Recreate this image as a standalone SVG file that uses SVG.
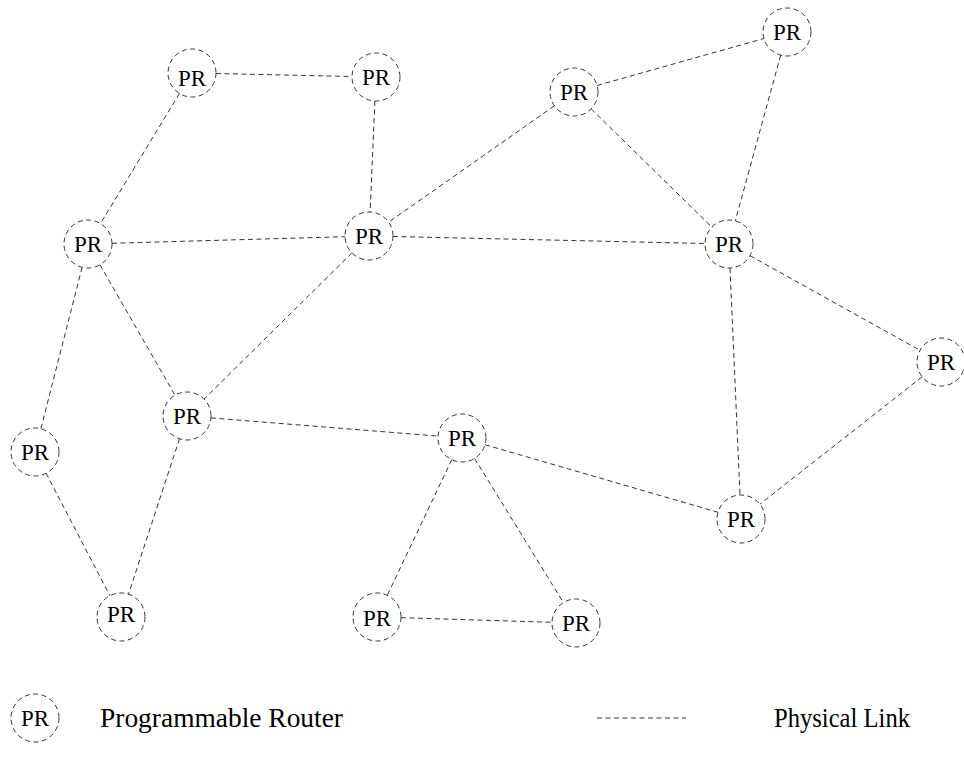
<svg xmlns="http://www.w3.org/2000/svg" width="964" height="766" viewBox="0 0 964 766">
<style>
.n{fill:none;stroke:#333;stroke-width:1;stroke-dasharray:5 3.5}
.l{stroke:#333;stroke-width:1;stroke-dasharray:5 3.5;fill:none}
.t{font-size:23px;fill:#000;text-anchor:middle}
.lg{font-size:27px;fill:#000}
</style>
<rect width="964" height="766" fill="#fff"/>
<g id="links">
<line class="l" x1="216" y1="73.5" x2="352" y2="76.5"/>
<line class="l" x1="179.5" y1="93.5" x2="100.5" y2="223.5"/>
<line class="l" x1="374.9" y1="101" x2="370.1" y2="212"/>
<line class="l" x1="597.1" y1="85.5" x2="763.9" y2="38.5"/>
<line class="l" x1="554.4" y1="105.8" x2="388.6" y2="222.2"/>
<line class="l" x1="591.1" y1="108.8" x2="711.9" y2="227.2"/>
<line class="l" x1="780.7" y1="55.1" x2="735.3" y2="220.9"/>
<line class="l" x1="112" y1="243.3" x2="345" y2="236.7"/>
<line class="l" x1="393" y1="236.5" x2="705" y2="243.5"/>
<line class="l" x1="100" y1="264.8" x2="175" y2="395.2"/>
<line class="l" x1="82.1" y1="267.3" x2="40.9" y2="428.7"/>
<line class="l" x1="351.9" y1="252.9" x2="204.1" y2="399.1"/>
<line class="l" x1="750" y1="255.7" x2="920" y2="350.3"/>
<line class="l" x1="730" y1="268" x2="740" y2="495"/>
<line class="l" x1="922.1" y1="376.8" x2="759.9" y2="504.2"/>
<line class="l" x1="210.9" y1="417.9" x2="438.1" y2="436.1"/>
<line class="l" x1="179.5" y1="438.8" x2="128.5" y2="594.2"/>
<line class="l" x1="46.1" y1="473.3" x2="109.9" y2="595.7"/>
<line class="l" x1="485" y1="444.7" x2="718" y2="512.3"/>
<line class="l" x1="451.7" y1="459.7" x2="387.3" y2="595.3"/>
<line class="l" x1="474.6" y1="458.4" x2="563.4" y2="602.6"/>
<line class="l" x1="401" y1="617.7" x2="552" y2="622.3"/>
</g>
<g font-family="Liberation Serif, serif">
<g id="pr1"><circle class="n" cx="192" cy="73" r="24"/><text class="t" x="192" y="86">PR</text></g>
<g id="pr2"><circle class="n" cx="376" cy="77" r="24"/><text class="t" x="376" y="85">PR</text></g>
<g id="pr3"><circle class="n" cx="574" cy="92" r="24"/><text class="t" x="574" y="100">PR</text></g>
<g id="pr4"><circle class="n" cx="787" cy="32" r="24"/><text class="t" x="787" y="40">PR</text></g>
<g id="pr5"><circle class="n" cx="88" cy="244" r="24"/><text class="t" x="88" y="252">PR</text></g>
<g id="pr6"><circle class="n" cx="369" cy="236" r="24"/><text class="t" x="369" y="244">PR</text></g>
<g id="pr7"><circle class="n" cx="729" cy="244" r="24"/><text class="t" x="729" y="252">PR</text></g>
<g id="pr8"><circle class="n" cx="941" cy="362" r="24"/><text class="t" x="941" y="370">PR</text></g>
<g id="pr9"><circle class="n" cx="187" cy="416" r="24"/><text class="t" x="187" y="424">PR</text></g>
<g id="pr10"><circle class="n" cx="462" cy="438" r="24"/><text class="t" x="462" y="446">PR</text></g>
<g id="pr11"><circle class="n" cx="35" cy="452" r="24"/><text class="t" x="35" y="460">PR</text></g>
<g id="pr12"><circle class="n" cx="741" cy="519" r="24"/><text class="t" x="741" y="527">PR</text></g>
<g id="pr13"><circle class="n" cx="121" cy="617" r="24"/><text class="t" x="121" y="622">PR</text></g>
<g id="pr14"><circle class="n" cx="377" cy="617" r="24"/><text class="t" x="377" y="626">PR</text></g>
<g id="pr15"><circle class="n" cx="576" cy="623" r="24"/><text class="t" x="576" y="631">PR</text></g>
<g id="legend">
<circle class="n" cx="35" cy="718" r="24"/><text class="t" x="35" y="726">PR</text>
<text class="lg" x="100" y="727" textLength="243" lengthAdjust="spacingAndGlyphs">Programmable Router</text>
<line class="l" x1="597" y1="718" x2="686" y2="718"/>
<text class="lg" x="774" y="727" textLength="136" lengthAdjust="spacingAndGlyphs">Physical Link</text>
</g>
</g>
</svg>
